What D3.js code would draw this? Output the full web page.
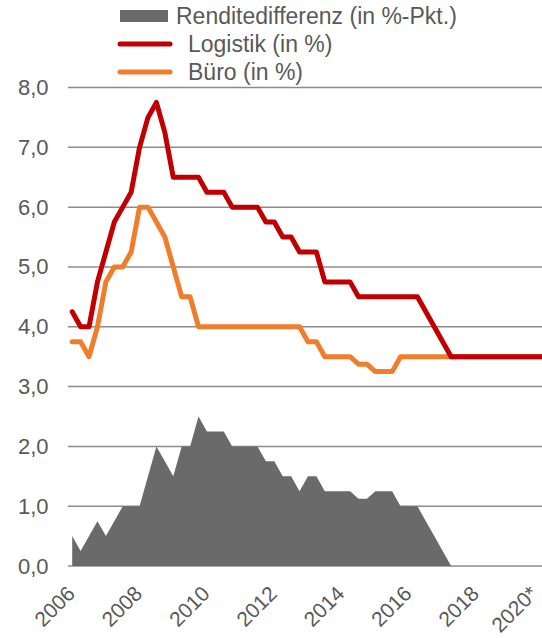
<!DOCTYPE html>
<html>
<head>
<meta charset="utf-8">
<script src="https://cdn.jsdelivr.net/npm/d3@7"></script>
<style>
  html, body { margin: 0; padding: 0; background: #fff; }
  svg { display: block; font-family: "Liberation Sans", Arial, sans-serif; }
</style>
</head>
<body>
<svg id="chart" width="542" height="638"></svg>
<script>
// Quarterly categories 2006 Q1 – 2020 Q4
const years = [2006, 2007, 2008, 2009, 2010, 2011, 2012, 2013, 2014, 2015, 2016, 2017, 2018, 2019, 2020];
const quarters = years.flatMap(y => [1, 2, 3, 4].map(q => `${y} Q${q}`));

// Year labels shown on the x axis (every second year, first quarter)
const tickYears = ["2006", "2008", "2010", "2012", "2014", "2016", "2018", "2020"];
const tickLabels = ["2006", "2008", "2010", "2012", "2014", "2016", "2018", "2020*"];

// Prime yield, logistics (in %)
const logistik = [
  4.25, 4.0, 4.0, 4.75, 5.25, 5.75, 6.0, 6.25,
  7.0, 7.5, 7.75, 7.25, 6.5, 6.5, 6.5, 6.5,
  6.25, 6.25, 6.25, 6.0, 6.0, 6.0, 6.0, 5.75,
  5.75, 5.5, 5.5, 5.25, 5.25, 5.25, 4.75, 4.75,
  4.75, 4.75, 4.5, 4.5, 4.5, 4.5, 4.5, 4.5,
  4.5, 4.5, 4.25, 4.0, 3.75, 3.5, 3.5, 3.5,
  3.5, 3.5, 3.5, 3.5, 3.5, 3.5, 3.5, 3.5, 3.5
];

// Prime yield, office (in %)
const buero = [
  3.75, 3.75, 3.5, 4.0, 4.75, 5.0, 5.0, 5.25,
  6.0, 6.0, 5.75, 5.5, 5.0, 4.5, 4.5, 4.0,
  4.0, 4.0, 4.0, 4.0, 4.0, 4.0, 4.0, 4.0,
  4.0, 4.0, 4.0, 4.0, 3.75, 3.75, 3.5, 3.5,
  3.5, 3.5, 3.375, 3.375, 3.25, 3.25, 3.25, 3.5,
  3.5, 3.5, 3.5, 3.5, 3.5, 3.5, 3.5, 3.5,
  3.5, 3.5, 3.5, 3.5, 3.5, 3.5, 3.5, 3.5, 3.5
];

// Yield spread (in percentage points)
const differenz = [
  0.5, 0.25, 0.5, 0.75, 0.5, 0.75, 1.0, 1.0,
  1.0, 1.5, 2.0, 1.75, 1.5, 2.0, 2.0, 2.5,
  2.25, 2.25, 2.25, 2.0, 2.0, 2.0, 2.0, 1.75,
  1.75, 1.5, 1.5, 1.25, 1.5, 1.5, 1.25, 1.25,
  1.25, 1.25, 1.125, 1.125, 1.25, 1.25, 1.25, 1.0,
  1.0, 1.0, 0.75, 0.5, 0.25, 0, 0, 0,
  0, 0, 0, 0, 0, 0, 0, 0, 0
];

const yTicks = [0, 1, 2, 3, 4, 5, 6, 7, 8];

const legendItems = [
  { label: "Renditedifferenz (in %-Pkt.)", color: "#6a6a6a", type: "area" },
  { label: "Logistik (in %)", color: "#c00000", type: "line" },
  { label: "Büro (in %)", color: "#f07d2c", type: "line" }
];

const W = 542, H = 638;
const plot = { left: 68, top: 87.5, bottom: 566, step: 8.42 };
const textColor = "#595959";

const svg = d3.select("#chart");

const x = d3.scaleBand()
  .domain(quarters)
  .range([plot.left, plot.left + quarters.length * plot.step]);
const xc = d => x(d) + x.bandwidth() / 2;

const y = d3.scaleLinear().domain([0, 8]).range([plot.bottom, plot.top]);

svg.append("defs").append("clipPath").attr("id", "plotClip")
  .append("rect").attr("x", plot.left).attr("y", 0).attr("width", W - plot.left).attr("height", H);

// Horizontal gridlines
svg.append("g")
  .selectAll("line")
  .data(yTicks)
  .join("line")
  .attr("x1", plot.left).attr("x2", W)
  .attr("y1", d => y(d)).attr("y2", d => y(d))
  .attr("stroke", "#8c8c8c").attr("stroke-width", 1.5);

// Y axis labels
const yAxis = d3.axisLeft(y).tickValues(yTicks).tickSize(0).tickPadding(0)
  .tickFormat(d => d3.format(".1f")(d).replace(".", ","));
svg.append("g")
  .attr("transform", `translate(48.5,0)`)
  .call(yAxis)
  .call(g => g.select(".domain").remove())
  .call(g => g.selectAll("text")
    .attr("fill", textColor)
    .attr("font-size", 22)
    .attr("font-family", "Liberation Sans, Arial, sans-serif"));

const g = svg.append("g").attr("clip-path", "url(#plotClip)");
const visible = quarters.slice(0, logistik.length);

// Spread area
g.append("path")
  .datum(visible.map((q, i) => [q, differenz[i]]))
  .attr("fill", legendItems[0].color)
  .attr("d", d3.area().x(d => xc(d[0])).y0(y(0)).y1(d => y(d[1])));

// Yield lines
const line = d3.line().x(d => xc(d[0])).y(d => y(d[1]));
g.append("path")
  .datum(visible.map((q, i) => [q, buero[i]]))
  .attr("fill", "none").attr("stroke", legendItems[2].color)
  .attr("stroke-width", 5).attr("stroke-linejoin", "round").attr("stroke-linecap", "round")
  .attr("d", line);
g.append("path")
  .datum(visible.map((q, i) => [q, logistik[i]]))
  .attr("fill", "none").attr("stroke", legendItems[1].color)
  .attr("stroke-width", 5).attr("stroke-linejoin", "round").attr("stroke-linecap", "round")
  .attr("d", line);

// X axis labels, rotated
svg.append("g")
  .selectAll("text")
  .data(tickYears)
  .join("text")
  .attr("transform", d => {
    const px = Math.min(xc(`${d} Q1`) + 4, W - 3);
    return `translate(${px},595) rotate(-45)`;
  })
  .attr("text-anchor", "end")
  .attr("fill", textColor)
  .attr("font-size", 21)
  .text((d, i) => tickLabels[i]);

// Legend
const lg = svg.append("g");
const rows = [16, 44, 72];
legendItems.forEach((item, i) => {
  const cy = rows[i];
  if (item.type === "area") {
    lg.append("rect").attr("x", 120).attr("y", cy - 6).attr("width", 48).attr("height", 12).attr("fill", item.color);
    lg.append("text").attr("x", 176).attr("y", cy + 8).attr("fill", textColor).attr("font-size", 23).text(item.label);
  } else {
    lg.append("line").attr("x1", 120).attr("x2", 170).attr("y1", cy).attr("y2", cy)
      .attr("stroke", item.color).attr("stroke-width", 5).attr("stroke-linecap", "round");
    lg.append("text").attr("x", 188).attr("y", cy + 8).attr("fill", textColor).attr("font-size", 23).text(item.label);
  }
});
</script>
</body>
</html>
